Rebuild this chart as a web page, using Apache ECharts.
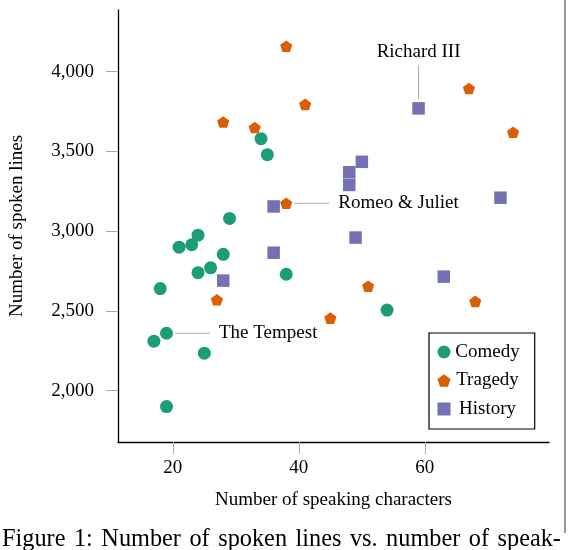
<!DOCTYPE html>
<html>
<head>
<meta charset="utf-8">
<script src="https://cdn.jsdelivr.net/npm/echarts@6/dist/echarts.min.js"></script>
<style>
html,body{margin:0;padding:0;background:#fff;}
#chart{width:568px;height:550px;}
</style>
</head>
<body>
<div id="chart"></div>
<script>
// ---- data ----
const comedy = [
  [17, 2310], [18, 2640], [19, 2360], [19, 1900], [21, 2900], [23, 2915],
  [24, 2975], [24, 2740], [25, 2235], [26, 2770], [28, 2855], [29, 3080],
  [34, 3580], [35, 3480], [38, 2730], [54, 2505]
];
const tragedy = [
  [27, 2570], [28, 3685], [33, 3650], [38, 4160], [38, 3175], [41, 3795],
  [45, 2455], [51, 2655], [67, 3895], [68, 2560], [74, 3620]
];
const history = [
  [28, 2690], [36, 3155], [36, 2865], [48, 3370], [48, 3290], [49, 2960],
  [50, 3435], [59, 3770], [63, 2715], [72, 3210]
];
const seriesNames = ['Comedy', 'Tragedy', 'History'];
const xTicks = [20, 40, 60];
const yTicks = [2000, 2500, 3000, 3500, 4000];
// annotated plays: [series, x, y, label]
const notes = [
  ['Comedy', 19, 2360, 'The Tempest'],
  ['Tragedy', 38, 3175, 'Romeo & Juliet'],
  ['History', 59, 3770, 'Richard III']
];
const xTitle = 'Number of speaking characters';
const yTitle = 'Number of spoken lines';
const caption = 'Figure 1: Number of spoken lines vs. number of speak-';

// ---- styling ----
const FONT = "'Liberation Serif', 'Times New Roman', serif";
const colors = {Comedy: '#1b9e77', Tragedy: '#d95f02', History: '#7570b3'};
const PENT = 'path://M0,-10L9.511,-3.090L5.878,8.090L-5.878,8.090L-9.511,-3.090Z';
const symbols = {Comedy: 'circle', Tragedy: PENT, History: 'rect'};
const sizes = {Comedy: 13, Tragedy: [12.2, 11.6], History: 12.5};
const lineGray = '#aaaaaa';

function noteLabel(name) {
  if (name === 'Richard III') {
    return {
      show: true, position: 'top', distance: 3,
      formatter: '{t|' + name + '}\n{v|}',
      rich: {
        t: {fontFamily: FONT, fontSize: 19, color: '#000', lineHeight: 27, align: 'center'},
        v: {width: 1, height: 34, backgroundColor: lineGray, align: 'center'}
      }
    };
  }
  return {
    show: true, position: 'right', distance: 2,
    formatter: '{l|}{t|' + name + '}',
    rich: {
      l: {width: 35, height: 1, backgroundColor: lineGray, verticalAlign: 'middle'},
      t: {fontFamily: FONT, fontSize: 19, color: '#000', padding: [0, 0, 0, 9], lineHeight: 20, verticalAlign: 'middle'}
    }
  };
}

function buildData(name, arr) {
  return arr.map(function (p) {
    const n = notes.find(function (q) { return q[0] === name && q[1] === p[0] && q[2] === p[1]; });
    if (n) return {value: p, label: noteLabel(n[3])};
    return p;
  });
}

const dataMap = {Comedy: comedy, Tragedy: tragedy, History: history};

// justified caption: widen inter-word spaces
const captionRich = caption.split(' ').join('{s|}');

const chart = echarts.init(document.getElementById('chart'));
chart.setOption({
  animation: false,
  backgroundColor: '#fff',
  textStyle: {fontFamily: FONT},
  grid: {left: 115.7, right: 19, top: 10, bottom: 108, containLabel: false},
  xAxis: {
    type: 'value', min: 11.3, max: 79.7,
    axisLine: {show: true, lineStyle: {color: '#000', width: 1.3}},
    axisTick: {show: true, length: 12, customValues: xTicks, lineStyle: {color: lineGray, width: 1}},
    axisLabel: {customValues: xTicks, margin: 17, fontFamily: FONT, fontSize: 19, color: '#000'},
    splitLine: {show: false},
    name: xTitle, nameLocation: 'middle', nameGap: 49,
    nameTextStyle: {fontFamily: FONT, fontSize: 19, color: '#000'}
  },
  yAxis: {
    type: 'value', min: 1678, max: 4387,
    axisLine: {show: true, lineStyle: {color: '#000', width: 1.3}},
    axisTick: {show: true, length: 12, customValues: yTicks, lineStyle: {color: lineGray, width: 1}},
    axisLabel: {customValues: yTicks, margin: 24, fontFamily: FONT, fontSize: 19, color: '#000',
      formatter: function (v) { return v.toLocaleString('en-US'); }},
    splitLine: {show: false},
    name: yTitle, nameLocation: 'middle', nameGap: 91,
    nameTextStyle: {fontFamily: FONT, fontSize: 19, color: '#000'}
  },
  legend: {
    orient: 'vertical', left: 429, top: 333,
    padding: [9, 15, 10, 8.5],
    itemGap: 8.5, itemWidth: 13, itemHeight: 13,
    borderColor: '#000', borderWidth: 1.2,
    data: seriesNames.map(function (n) { return {name: n, icon: symbols[n]}; }),
    formatter: function (n) { return '{c|' + n + '}'; },
    textStyle: {
      fontFamily: FONT, fontSize: 19, color: '#000', lineHeight: 20,
      rich: {c: {width: 64, align: 'center', fontFamily: FONT, fontSize: 19, lineHeight: 20}}
    }
  },
  series: seriesNames.map(function (n) {
    return {
      name: n, type: 'scatter',
      symbol: symbols[n], symbolSize: sizes[n],
      itemStyle: {color: colors[n], opacity: 1},
      emphasis: {disabled: true},
      data: buildData(n, dataMap[n]),
      z: 3
    };
  }),
  graphic: [
    {type: 'text', left: 2, top: 528, style: {
      text: captionRich, font: '24.3px ' + FONT, fill: '#000',
      rich: {s: {width: 8.5}}
    }},
    {type: 'line', shape: {x1: 565, y1: 0, x2: 565, y2: 533}, style: {stroke: '#555', lineWidth: 1.2}}
  ]
});
</script>
</body>
</html>
